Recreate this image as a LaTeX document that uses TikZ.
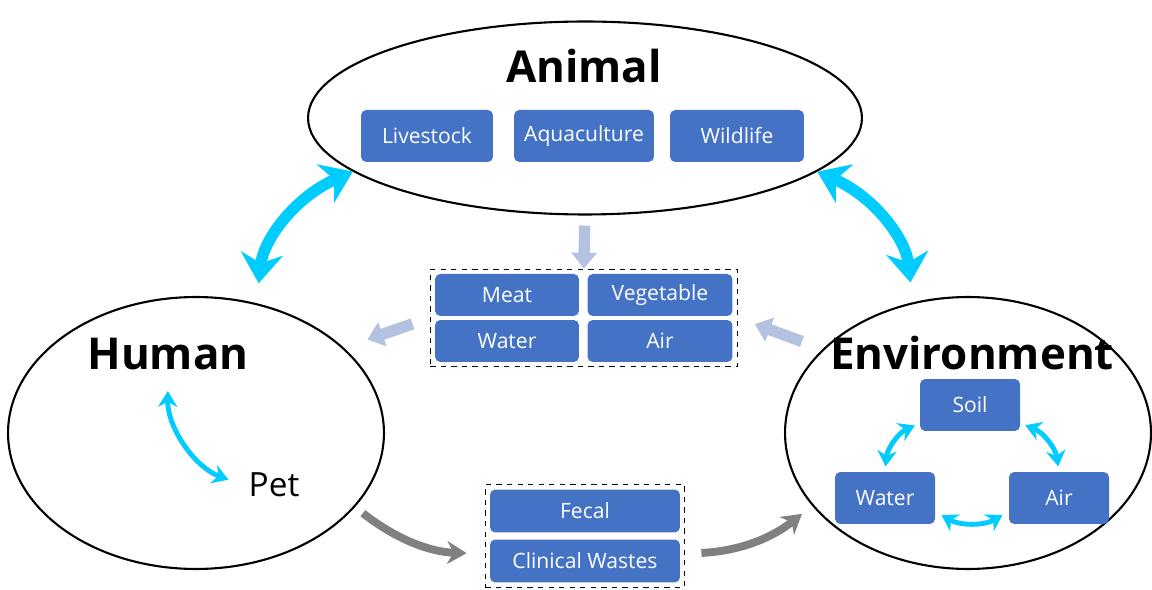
\documentclass[tikz,border=0pt]{standalone}
\usepackage{fontspec}
\setmainfont{Open Sans}
\usetikzlibrary{shapes.geometric,arrows.meta,fit}
\definecolor{boxblue}{RGB}{68,114,196}
\definecolor{linkcyan}{RGB}{0,204,255}
\definecolor{paleblue}{RGB}{180,194,226}
\definecolor{wastegray}{RGB}{128,128,128}

\begin{document}
\begin{tikzpicture}[x=0.02cm, y=-0.02cm,
    group/.style={draw, ellipse, line width=1.2pt, inner sep=0pt},
    title/.style={font=\fontsize{25}{30}\selectfont\bfseries},
    item/.style={fill=boxblue, text=white, rounded corners=3pt, inner sep=0pt,
                 font=\fontsize{12}{14}\selectfont},
    holder/.style={draw, dashed, line width=0.8pt, inner sep=2.5pt},
    bigarrow/.style={linkcyan, line width=6.5pt,
                     {Stealth[length=17pt,width=24pt]}-{Stealth[length=17pt,width=24pt]}},
    smallarrow/.style={linkcyan, line width=2.8pt,
                       {Stealth[length=9pt,width=11pt]}-{Stealth[length=9pt,width=11pt]}},
    palearrow/.style={paleblue, line width=6.5pt, -{Triangle[length=9pt,width=14pt]}},
    grayarrow/.style={wastegray, line width=4.5pt, -{Stealth[length=11pt,width=13pt]}}
  ]
  \useasboundingbox (0,0) rectangle (1152,590);

  % the three groups
  \node[group, minimum width=11.08cm, minimum height=3.86cm] (animal) at (585,118) {};
  \node[group, minimum width=7.52cm, minimum height=5.44cm] (human) at (196,433) {};
  \node[group, minimum width=7.32cm, minimum height=5.44cm] (env) at (968,433) {};

  \node[title] (animallabel) at (584,66) {Animal};
  \node[title] (humanlabel) at (168,354) {Human};
  \node[title] (envlabel) at (972,353) {Environment};
  \node[font=\fontsize{19}{22}\selectfont] (pet) at (274,485) {Pet};

  % animal
  \node[item, minimum width=2.64cm, minimum height=1.04cm] (livestock) at (427,136) {Livestock};
  \node[item, minimum width=2.8cm, minimum height=1.04cm] (aqua) at (584,136) {Aquaculture};
  \node[item, minimum width=2.68cm, minimum height=1.04cm] (wildlife) at (737,136) {Wildlife};

  % food and surroundings
  \node[item, minimum width=2.88cm, minimum height=0.84cm] (meat) at (507,295) {Meat};
  \node[item, minimum width=2.9cm, minimum height=0.84cm] (veg) at (660,295) {Vegetable};
  \node[item, minimum width=2.88cm, minimum height=0.84cm] (foodwater) at (507,341) {Water};
  \node[item, minimum width=2.9cm, minimum height=0.84cm] (foodair) at (660,341) {Air};
  \node[holder, fit=(meat) (veg) (foodwater) (foodair)] (food) {};

  % wastes
  \node[item, minimum width=3.8cm, minimum height=0.86cm] (fecal) at (585,511) {Fecal};
  \node[item, minimum width=3.8cm, minimum height=0.86cm] (clinical) at (585,561) {Clinical Wastes};
  \node[holder, fit=(fecal) (clinical)] (waste) {};

  % environment
  \node[item, minimum width=2cm, minimum height=1.04cm] (soil) at (970,405) {Soil};
  \node[item, minimum width=2cm, minimum height=1.04cm] (envwater) at (885,498) {Water};
  \node[item, minimum width=2cm, minimum height=1.04cm] (envair) at (1059,498) {Air};

  % links
  \draw[bigarrow, shorten >=0.4cm] (animal.193) to[bend right=30] (human.65);
  \draw[bigarrow, shorten >=0.4cm] (animal.-13) to[bend left=30] (env.113);
  \draw[smallarrow, shorten <=0.3cm, shorten >=0.3cm] (humanlabel.south) to[bend right=35] (pet.west);

  \draw[smallarrow, shorten <=3pt, shorten >=3pt] (soil.200) to[bend right=30] (envwater.north);
  \draw[smallarrow, shorten <=3pt, shorten >=3pt] (soil.-20) to[bend left=30] (envair.north);
  \draw[smallarrow, shorten <=4pt, shorten >=4pt] (envwater.-15) to[bend right=30] (envair.195);

  \draw[palearrow, shorten <=0.2cm] (animal.south) -- (food.north);
  \draw[palearrow, shorten <=0.36cm, shorten >=0.5cm] (food.west) -- (human.30);
  \draw[palearrow, shorten <=0.44cm, shorten >=0.36cm] (env.150) -- (food.east);

  \draw[grayarrow, shorten <=0.2cm, shorten >=0.36cm] (human.-25) to[bend right=18] (waste.190);
  \draw[grayarrow, shorten <=0.32cm, shorten >=0.26cm] (waste.-10) to[bend right=18] (env.205);
\end{tikzpicture}
\end{document}
